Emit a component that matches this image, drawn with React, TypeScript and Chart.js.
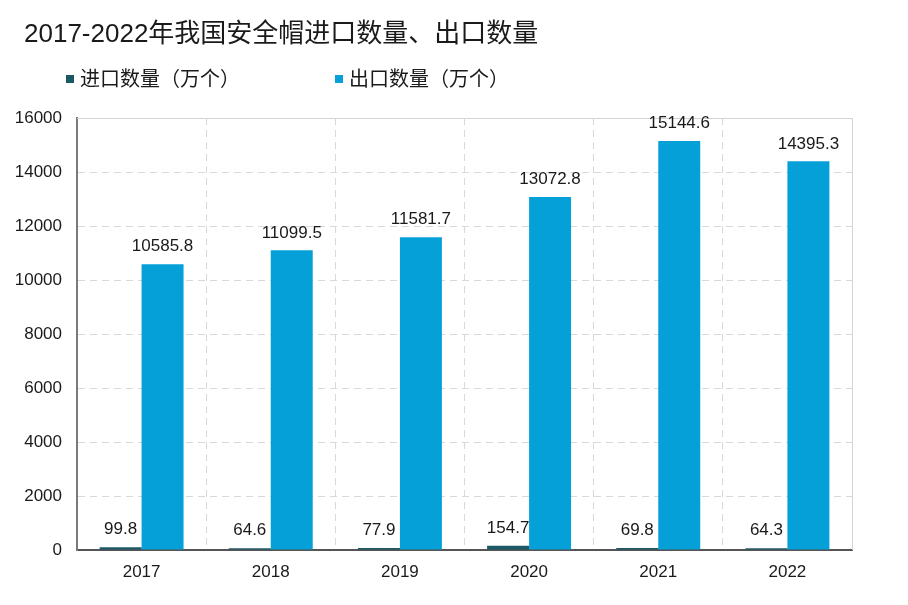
import React, { useEffect, useRef } from "react";
import { Chart, registerables } from "chart.js";

Chart.register(...registerables);

const categories = ["2017", "2018", "2019", "2020", "2021", "2022"];
const importValues = [99.8, 64.6, 77.9, 154.7, 69.8, 64.3];
const exportValues = [10585.8, 11099.5, 11581.7, 13072.8, 15144.6, 14395.3];
const seriesNames = ["进口数量（万个）", "出口数量（万个）"];
const seriesColors = ["#1d5866", "#06a0d9"];
const titleText = "2017-2022年我国安全帽进口数量、出口数量";

const FONT = "'Liberation Sans', Arial, sans-serif";
const CJK_FONT = "'Liberation Sans', Arial, 'Noto Sans CJK SC', sans-serif";

const valueLabels = {
  id: "valueLabels",
  afterDatasetsDraw(chart: any) {
    const ctx = chart.ctx;
    ctx.save();
    ctx.font = `17px ${FONT}`;
    ctx.fillStyle = "#1a1a1a";
    ctx.textAlign = "center";
    ctx.textBaseline = "bottom";
    chart.data.datasets.forEach((ds: any, di: number) => {
      const meta = chart.getDatasetMeta(di);
      meta.data.forEach((bar: any, i: number) => {
        ctx.fillText(String(ds.data[i]), bar.x, bar.y - 9);
      });
    });
    ctx.restore();
  },
};

const areaBorder = {
  id: "areaBorder",
  beforeDatasetsDraw(chart: any) {
    const { ctx, chartArea } = chart;
    ctx.save();
    ctx.strokeStyle = "#d4d4d4";
    ctx.lineWidth = 1;
    ctx.beginPath();
    ctx.moveTo(chartArea.left, chartArea.top + 0.5);
    ctx.lineTo(chartArea.right + 0.5, chartArea.top + 0.5);
    ctx.lineTo(chartArea.right + 0.5, chartArea.bottom);
    ctx.stroke();
    ctx.restore();
  },
};

export default function App() {
  const canvasRef = useRef<HTMLCanvasElement>(null);

  useEffect(() => {
    const chart = new Chart(canvasRef.current!, {
      type: "bar",
      data: {
        labels: categories,
        datasets: [
          {
            label: seriesNames[0],
            data: importValues,
            backgroundColor: seriesColors[0],
            categoryPercentage: 0.65,
            barPercentage: 1.0,
          },
          {
            label: seriesNames[1],
            data: exportValues,
            backgroundColor: seriesColors[1],
            categoryPercentage: 0.65,
            barPercentage: 1.0,
          },
        ],
      },
      options: {
        animation: false,
        responsive: false,
        maintainAspectRatio: false,
        layout: { padding: { top: 118, right: 56, bottom: 22, left: 0 } },
        plugins: {
          legend: { display: false },
          title: { display: false },
          tooltip: { enabled: false },
        },
        scales: {
          x: {
            grid: {
              display: true,
              offset: true,
              drawTicks: false,
              color: "#d9d9d9",
              lineWidth: 1,
            },
            border: { display: true, color: "#555555", width: 2, dash: [7, 5] },
            ticks: {
              padding: 12,
              color: "#1a1a1a",
              font: { family: FONT, size: 17 },
            },
            afterFit(scale: any) {
              scale.height = 33;
            },
          },
          y: {
            min: 0,
            max: 16000,
            ticks: {
              stepSize: 2000,
              padding: 15,
              color: "#1a1a1a",
              font: { family: FONT, size: 17 },
              callback: (v: any) => String(v),
            },
            grid: {
              drawTicks: false,
              color: "#d9d9d9",
              lineWidth: 1,
            },
            border: { display: true, color: "#7a7a7a", width: 2, dash: [7, 5] },
            afterFit(scale: any) {
              scale.width = 77;
            },
          },
        },
      },
      plugins: [areaBorder, valueLabels],
    });
    return () => chart.destroy();
  }, []);

  return (
    <div
      style={{
        position: "fixed",
        left: 0,
        top: 0,
        width: 908,
        height: 605,
        background: "#ffffff",
        fontFamily: FONT,
        overflow: "hidden",
      }}
    >
      <canvas
        ref={canvasRef}
        width={908}
        height={605}
        style={{ position: "absolute", left: 0, top: 0, width: 908, height: 605 }}
      />
      <div
        style={{
          position: "absolute",
          left: 24,
          top: 18,
          fontSize: 26,
          color: "#1a1a1a",
          whiteSpace: "nowrap",
          lineHeight: "30px",
          fontFamily: CJK_FONT,
        }}
      >
        {titleText}
      </div>
      {seriesNames.map((name, i) => (
        <div
          key={name}
          style={{
            position: "absolute",
            left: i === 0 ? 66 : 335,
            top: 67,
            display: "flex",
            alignItems: "center",
            fontSize: 20,
            lineHeight: "24px",
            color: "#1a1a1a",
            whiteSpace: "nowrap",
            fontFamily: CJK_FONT,
          }}
        >
          <span
            style={{
              display: "inline-block",
              width: 8,
              height: 8,
              background: seriesColors[i],
              marginRight: 6,
            }}
          />
          {name}
        </div>
      ))}
    </div>
  );
}
